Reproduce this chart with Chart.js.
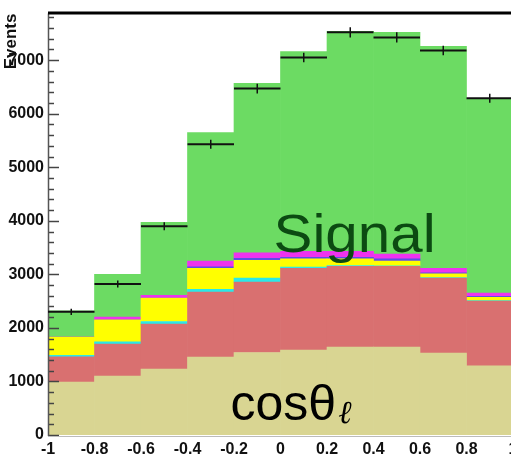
<!DOCTYPE html>
<html>
<head>
<meta charset="utf-8">
<script src="https://cdn.jsdelivr.net/npm/chart.js@4"></script>
<style>
  html, body { margin: 0; padding: 0; background: #fff; overflow: hidden; }
  #wrap { width: 540px; height: 456px; }
</style>
</head>
<body>
<div id="wrap"><canvas id="chart" width="540" height="456"></canvas></div>
<script>
// Bins de cos(theta_l), ancho 0.2
const binCenters = [-0.9, -0.7, -0.5, -0.3, -0.1, 0.1, 0.3, 0.5, 0.7, 0.9];
const binWidth = 0.2;
const yMajorTicks = [0, 1000, 2000, 3000, 4000, 5000, 6000, 7000];

// Componentes apilados (de abajo hacia arriba)
const bkgTan     = [990, 1100, 1230, 1455, 1540, 1586, 1640, 1640, 1530, 1290];
const bkgRed     = [470, 600, 840, 1215, 1315, 1529, 1510, 1510, 1400, 1210];
const bkgCyan    = [30, 40, 50, 50, 75, 20, 15, 10, 10, 10];
const bkgYellow  = [340, 410, 435, 395, 330, 155, 125, 90, 70, 60];
const bkgBlue    = [0, 0, 0, 25, 40, 30, 30, 40, 20, 20];
const bkgMagenta = [0, 50, 55, 110, 100, 110, 110, 90, 85, 60];
const signal     = [490, 800, 1360, 2400, 3170, 3730, 4110, 4140, 4145, 3620];

// Datos (puntos con barras de error)
const dataEvents = [2300, 2820, 3900, 5430, 6470, 7050, 7520, 7425, 7180, 6290];
const dataErrors = [60, 65, 75, 85, 90, 90, 95, 95, 90, 85];

const tickFont = '"Liberation Sans Narrow", "Liberation Sans", Arial, sans-serif';

function layer(label, values, color) {
    return {
        label: label,
        data: binCenters.map((c, i) => ({ x: c, y: values[i] })),
        backgroundColor: color,
        borderWidth: 0,
        barPercentage: 1,
        categoryPercentage: 1
    };
}

// Plugin: barras de error, marcas del eje, marco y textos
const overlayPlugin = {
    id: 'overlay',
    afterDatasetsDraw(chart) {
        const { ctx, chartArea: a, scales: { x, y } } = chart;
        ctx.save();

        // Marcas del eje Y (hacia dentro)
        ctx.strokeStyle = '#444';
        ctx.lineWidth = 1.5;
        for (let v = 0; v <= 7800; v += 200) {
            const py = Math.round(y.getPixelForValue(v)) + 0.5;
            const len = (v % 1000 === 0) ? 11 : 6;
            ctx.beginPath();
            ctx.moveTo(a.left, py);
            ctx.lineTo(a.left + len, py);
            ctx.stroke();
        }
        // Eje Y
        ctx.strokeStyle = '#555';
        ctx.lineWidth = 1.5;
        ctx.beginPath();
        ctx.moveTo(a.left + 0.5, a.top);
        ctx.lineTo(a.left + 0.5, a.bottom + 1);
        ctx.stroke();
        // Eje X (linea tenue)
        ctx.strokeStyle = '#bbb';
        ctx.lineWidth = 1;
        ctx.beginPath();
        ctx.moveTo(a.left, a.bottom + 1.5);
        ctx.lineTo(a.right, a.bottom + 1.5);
        ctx.stroke();
        // Marco superior
        ctx.strokeStyle = '#000';
        ctx.lineWidth = 3;
        ctx.beginPath();
        ctx.moveTo(a.left, a.top - 0.5);
        ctx.lineTo(a.right + 20, a.top - 0.5);
        ctx.stroke();

        // Barras de error de los datos
        ctx.strokeStyle = '#111';
        binCenters.forEach((c, i) => {
            const x0 = x.getPixelForValue(c - binWidth / 2);
            const x1 = x.getPixelForValue(c + binWidth / 2);
            const xc = x.getPixelForValue(c);
            const yv = y.getPixelForValue(dataEvents[i]);
            const yHi = y.getPixelForValue(dataEvents[i] + dataErrors[i]);
            const yLo = y.getPixelForValue(dataEvents[i] - dataErrors[i]);
            ctx.lineWidth = 2;
            ctx.beginPath();
            ctx.moveTo(x0, yv);
            ctx.lineTo(x1, yv);
            ctx.stroke();
            ctx.lineWidth = 1.5;
            ctx.beginPath();
            ctx.moveTo(xc, yHi);
            ctx.lineTo(xc, yLo);
            ctx.stroke();
        });

        // Etiquetas dentro del grafico
        ctx.textBaseline = 'alphabetic';
        ctx.textAlign = 'left';
        ctx.fillStyle = '#0c4a12';
        ctx.font = '53px "Liberation Sans", Arial, sans-serif';
        ctx.save();
        ctx.translate(x.getPixelForValue(-0.03), y.getPixelForValue(3410));
        ctx.scale(1.1, 1);
        ctx.fillText('Signal', 0, 0);
        ctx.restore();

        ctx.fillStyle = '#000';
        ctx.font = '50px "Liberation Sans", Arial, sans-serif';
        const cx = x.getPixelForValue(-0.215);
        const cy = y.getPixelForValue(280);
        ctx.fillText('cosθ', cx, cy);
        const w = ctx.measureText('cosθ').width;
        ctx.font = 'italic 32px "DejaVu Serif", serif';
        ctx.fillText('ℓ', cx + w + 2, cy + 3);

        ctx.restore();
    }
};

const chart = new Chart(document.getElementById('chart'), {
    type: 'bar',
    data: {
        datasets: [
            layer('Fondo 1', bkgTan, '#d9d592'),
            layer('Fondo 2', bkgRed, '#d97070'),
            layer('Fondo 3', bkgCyan, '#2ae8e8'),
            layer('Fondo 4', bkgYellow, '#ffff00'),
            layer('Fondo 5', bkgBlue, '#5a4ee6'),
            layer('Fondo 6', bkgMagenta, '#ee33ee'),
            layer('Signal', signal, '#6cdb63')
        ]
    },
    options: {
        responsive: false,
        animation: false,
        layout: { padding: { top: 13, right: 27, bottom: 0, left: 0 } },
        plugins: {
            legend: { display: false },
            tooltip: { enabled: false }
        },
        scales: {
            x: {
                type: 'linear',
                stacked: true,
                offset: false,
                min: -1,
                max: 1,
                grid: { display: false, drawTicks: false },
                border: { display: false },
                afterFit: (scale) => { scale.height = 21; },
                ticks: {
                    stepSize: 0.2,
                    padding: 5,
                    color: '#111',
                    font: { family: tickFont, size: 16, weight: 'bold' },
                    maxRotation: 0,
                    autoSkip: false,
                    callback: (v) => String(Math.round(v * 10) / 10)
                }
            },
            y: {
                stacked: true,
                min: 0,
                max: 7870,
                grid: { display: false, drawTicks: false },
                border: { display: false },
                afterFit: (scale) => { scale.width = 48; },
                afterBuildTicks: (scale) => {
                    scale.ticks = yMajorTicks.map(v => ({ value: v }));
                },
                title: {
                    display: true,
                    text: 'Events',
                    align: 'end',
                    color: '#111',
                    padding: { top: 1, bottom: 0 },
                    font: { family: '"Liberation Sans", Arial, sans-serif', size: 17, weight: 'bold' }
                },
                ticks: {
                    padding: 4,
                    color: '#111',
                    font: { family: tickFont, size: 16, weight: 'bold' },
                    callback: (v) => String(v)
                }
            }
        }
    },
    plugins: [overlayPlugin]
});
</script>
</body>
</html>
